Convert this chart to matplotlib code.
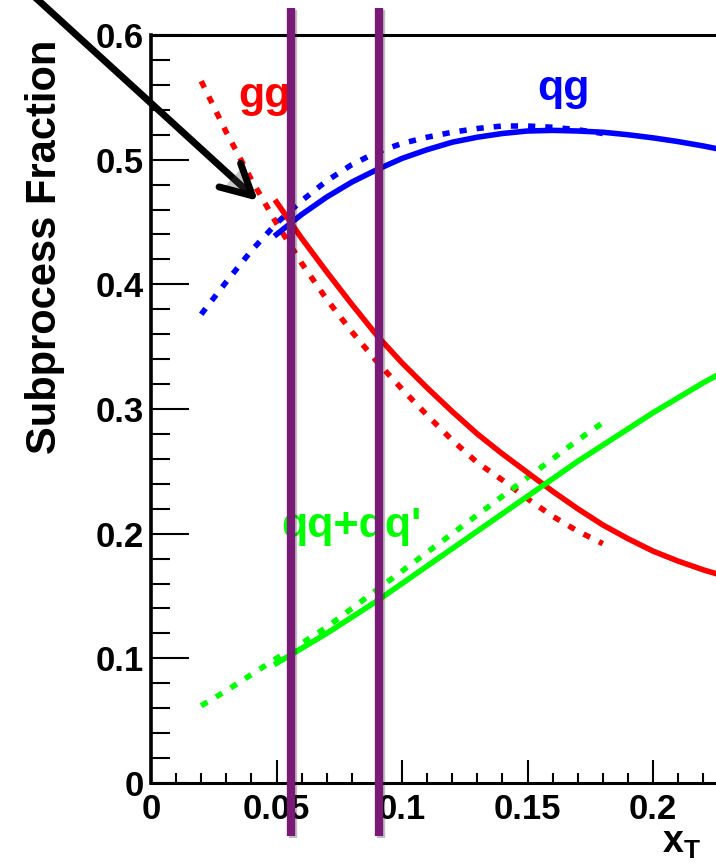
import matplotlib
matplotlib.use("Agg")
from matplotlib import pyplot as plt
from matplotlib import ticker
import matplotlib.patheffects as pe

plt.rcParams['font.family'] = ['Liberation Sans', 'DejaVu Sans']
plt.rcParams['font.weight'] = 'bold'
plt.rcParams['mathtext.fontset'] = 'custom'
plt.rcParams['mathtext.bf'] = 'Liberation Sans:bold'
plt.rcParams['mathtext.rm'] = 'Liberation Sans:bold'
plt.rcParams['mathtext.it'] = 'Liberation Sans:bold'

# dotted curves (x_T = 0.02 .. 0.18)
xt_dot = [0.02, 0.03, 0.04, 0.05, 0.06, 0.07, 0.08, 0.09, 0.10,
          0.11, 0.12, 0.13, 0.14, 0.15, 0.16, 0.17, 0.18]
gg_dot = [0.563, 0.522, 0.484, 0.449, 0.417, 0.388, 0.362, 0.338, 0.316,
          0.295, 0.275, 0.257, 0.243, 0.228, 0.214, 0.202, 0.192]
qg_dot = [0.376, 0.402, 0.427, 0.449, 0.467, 0.483, 0.496, 0.506, 0.513,
          0.518, 0.522, 0.525, 0.527, 0.527, 0.526, 0.524, 0.521]
qq_dot = [0.062, 0.074, 0.087, 0.100, 0.112, 0.125, 0.140, 0.155, 0.170,
          0.185, 0.200, 0.215, 0.230, 0.245, 0.260, 0.275, 0.289]

# solid curves (x_T = 0.05 .. 0.23)
xt_sol = [0.05, 0.06, 0.07, 0.08, 0.09, 0.10, 0.11, 0.12, 0.13, 0.14,
          0.15, 0.16, 0.17, 0.18, 0.19, 0.20, 0.21, 0.22, 0.23]
gg_sol = [0.466, 0.437, 0.410, 0.384, 0.359, 0.337, 0.317, 0.298, 0.280, 0.264,
          0.249, 0.234, 0.220, 0.207, 0.196, 0.186, 0.178, 0.171, 0.165]
qg_sol = [0.440, 0.456, 0.470, 0.482, 0.492, 0.501, 0.508, 0.514, 0.518, 0.521,
          0.523, 0.5235, 0.523, 0.522, 0.520, 0.5175, 0.5145, 0.511, 0.507]
qq_sol = [0.096, 0.108, 0.120, 0.133, 0.146, 0.160, 0.174, 0.188, 0.202, 0.216,
          0.230, 0.244, 0.258, 0.271, 0.284, 0.297, 0.309, 0.321, 0.332]

cut_x = [0.0558, 0.0908]
cut_span = [-0.0425, 0.622]

x_max = (716 - 151) / 2510

fig = plt.figure(figsize=(7.16, 8.66), dpi=100)
ax = fig.add_axes([151 / 716, 1 - 783 / 866, (716 - 151) / 716, (783 - 35) / 866])

dots = (0, (1.3, 1.8))
ax.plot(xt_dot, gg_dot, color='#ff0000', lw=4, ls=dots, dash_capstyle='butt')
ax.plot(xt_dot, qg_dot, color='#0000ff', lw=4, ls=dots, dash_capstyle='butt')
ax.plot(xt_dot, qq_dot, color='#00ff00', lw=4, ls=dots, dash_capstyle='butt')
ax.plot(xt_sol, gg_sol, color='#ff0000', lw=4, solid_joinstyle='round')
ax.plot(xt_sol, qg_sol, color='#0000ff', lw=4, solid_joinstyle='round')
ax.plot(xt_sol, qq_sol, color='#00ff00', lw=4, solid_joinstyle='round')

ax.text(0.0347, 0.542, 'gg', color='#ff0000', fontsize=31, fontweight='bold')
ax.text(0.154, 0.548, 'qg', color='#0000ff', fontsize=31, fontweight='bold')
ax.text(0.052, 0.197, "qq+qq'", color='#00ff00', fontsize=31, fontweight='bold')

shadow = [pe.SimpleLineShadow(offset=(1.5, -1.5), alpha=0.25), pe.Normal()]
for cx in cut_x:
    ax.plot([cx, cx], cut_span, color='#7a1a77', lw=6, clip_on=False,
            solid_capstyle='butt', zorder=5, path_effects=shadow)

ax.annotate('', xy=(0.0426, 0.467), xytext=(-0.064, 0.663), annotation_clip=False,
            arrowprops=dict(arrowstyle='->, head_length=2.2, head_width=1.15',
                            lw=5, color='black', shrinkA=0, shrinkB=0,
                            mutation_scale=10, capstyle='round', joinstyle='round',
                            path_effects=[pe.SimplePatchShadow(offset=(2, -2), alpha=0.3),
                                          pe.Normal()]),
            zorder=6)

ax.set_xlim(0, x_max)
ax.set_ylim(0, 0.6)
ax.xaxis.set_major_locator(ticker.MultipleLocator(0.05))
ax.xaxis.set_minor_locator(ticker.MultipleLocator(0.01))
ax.yaxis.set_major_locator(ticker.MultipleLocator(0.1))
ax.yaxis.set_minor_locator(ticker.MultipleLocator(0.02))
ax.xaxis.set_major_formatter(ticker.FormatStrFormatter('%g'))
ax.yaxis.set_major_formatter(ticker.FormatStrFormatter('%g'))
ax.tick_params(axis='both', which='both', direction='in', width=1.5,
               top=False, right=False, labelsize=25)
ax.tick_params(axis='x', which='major', length=16.5, pad=7)
ax.tick_params(axis='x', which='minor', length=7.2)
ax.tick_params(axis='y', which='major', length=27, pad=5)
ax.tick_params(axis='y', which='minor', length=13.7)
for lab in ax.get_xticklabels() + ax.get_yticklabels():
    lab.set_fontweight('bold')

ax.spines['left'].set_linewidth(2.6)
ax.spines['bottom'].set_linewidth(2.2)
ax.spines['top'].set_linewidth(2.2)
ax.spines['right'].set_visible(False)

fig.text(45 / 716, 1 - 247 / 866, 'Subprocess Fraction', rotation=90,
         ha='center', va='center', fontsize=30, fontweight='bold')
fig.text(701 / 716, 1 - 853 / 866, r'$\mathbf{x}_\mathbf{T}$', ha='right',
         va='baseline', fontsize=27)

fig.savefig('out.png', dpi=100)
